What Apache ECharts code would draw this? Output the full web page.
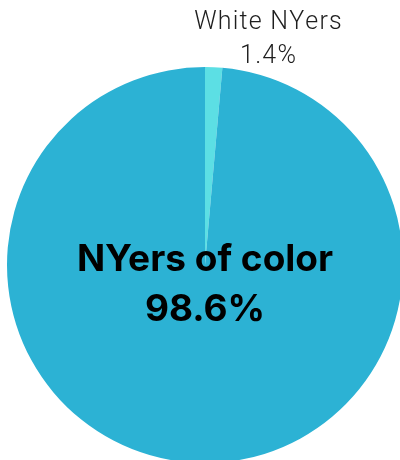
<!DOCTYPE html>
<html><head><meta charset="utf-8">
<script src="https://cdn.jsdelivr.net/npm/echarts@6/dist/echarts.min.js"></script>
<style>html,body{margin:0;padding:0;background:#fff}#c{width:400px;height:460px}</style>
</head><body><div id="c"></div>
<script>
const categories = ["White NYers", "NYers of color"];
const values = [1.4, 98.6];
const colors = ["#5cdfe4", "#2cb2d4"];

function tracked(str, key) {
  return str.split('\n').map(line =>
    line.split('').map(ch => '{' + key + '|' + ch + '}').join('')
  ).join('\n');
}

const chart = echarts.init(document.getElementById('c'));
chart.setOption({
  animation: false,
  series: [{
    type: 'pie',
    center: [205, 265],
    radius: [0, 198],
    startAngle: 90,
    clockwise: true,
    avoidLabelOverlap: false,
    data: [
      { name: categories[0], value: values[0], itemStyle: { color: colors[0] },
        label: { show: true, position: 'outside',
                 color: '#1e1e1e', fontFamily: 'Roboto', fontSize: 25, fontWeight: 300, lineHeight: 34,
                 formatter: p => tracked(p.name + '\n' + p.value + '%', 't'),
                 rich: { t: { color: '#1e1e1e', fontFamily: 'Roboto', fontSize: 25, fontWeight: 300,
                              lineHeight: 34, padding: [0, 0.6, 0, 0.6] } } },
        labelLine: { show: false } },
      { name: categories[1], value: values[1], itemStyle: { color: colors[1] },
        label: { show: true, position: 'center', formatter: '{b}\n{c}%', color: '#000',
                 fontFamily: 'Inter', fontSize: 37, lineHeight: 50, fontWeight: 'bold',
                 offset: [0, 20] },
        labelLine: { show: false } }
    ],
    labelLayout: function (p) {
      if (p.dataIndex === 0) {
        return { x: 268, y: 40, align: 'center', verticalAlign: 'middle' };
      }
      return {};
    }
  }]
});
</script></body></html>
